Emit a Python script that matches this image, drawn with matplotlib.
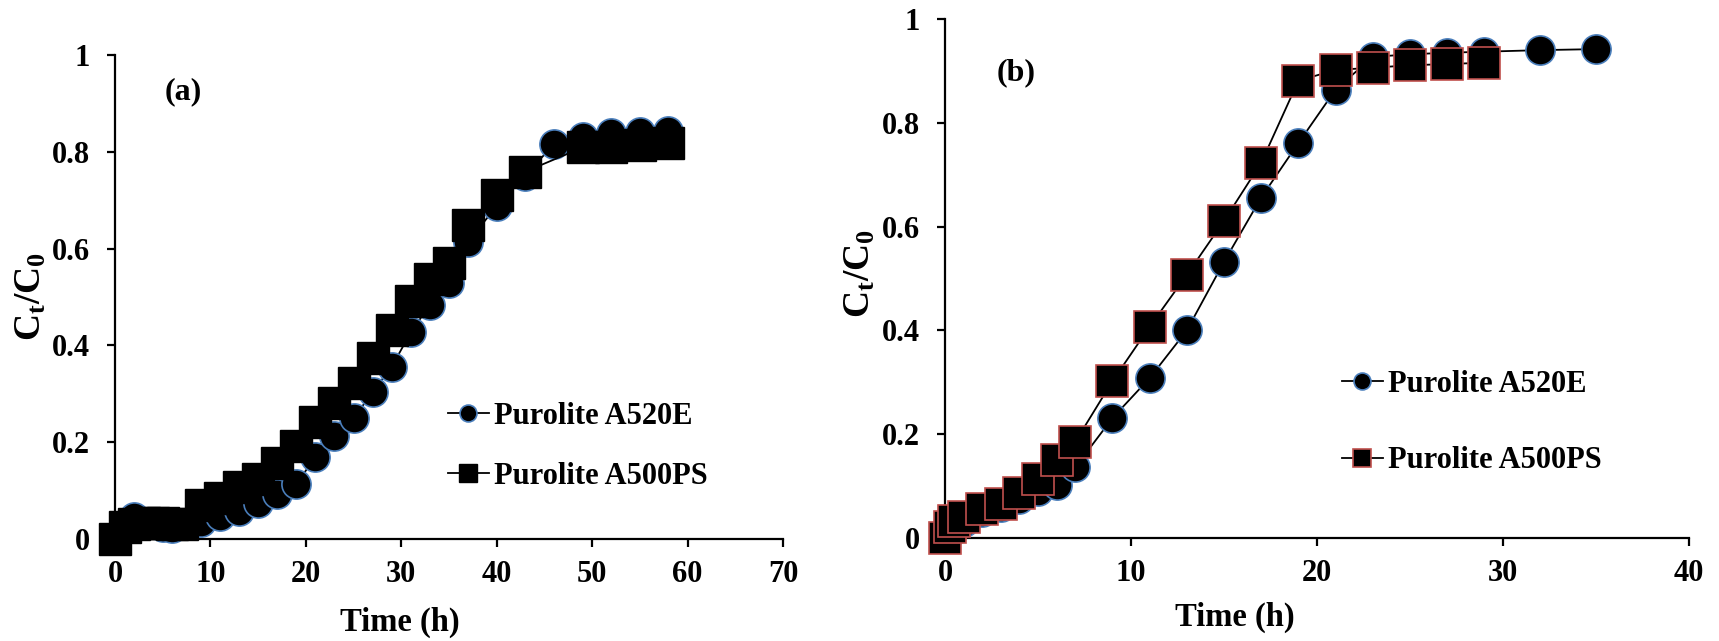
import matplotlib
matplotlib.use("Agg")
import matplotlib.pyplot as plt

plt.rcParams['font.family'] = ['Liberation Serif', 'DejaVu Serif']
plt.rcParams['font.weight'] = 'bold'
plt.rcParams['mathtext.fontset'] = 'custom'
plt.rcParams['mathtext.rm'] = 'Liberation Serif:bold'
plt.rcParams['mathtext.bf'] = 'Liberation Serif:bold'
plt.rcParams['mathtext.it'] = 'Liberation Serif:bold'

# ---------------- data: panel (a) ----------------
a_t_a520e = [0, 1, 2, 3, 4, 5, 6, 7, 9, 11, 13, 15, 17, 19, 21, 23, 25, 27, 29,
             31, 33, 35, 37, 40, 43, 46, 49, 52, 55, 58]
a_c_a520e = [0.0, 0.02, 0.045, 0.035, 0.03, 0.025, 0.022, 0.029, 0.036, 0.048,
             0.058, 0.075, 0.094, 0.113, 0.170, 0.213, 0.249, 0.304, 0.356,
             0.427, 0.484, 0.529, 0.614, 0.688, 0.751, 0.816, 0.831, 0.838,
             0.840, 0.844]
a_t_a500ps = [0, 1, 2, 3, 4, 5, 6, 7, 9, 11, 13, 15, 17, 19, 21, 23, 25, 27, 29,
              31, 33, 35, 37, 40, 43, 49, 52, 55, 58]
a_c_a500ps = [0.0, 0.025, 0.03, 0.034, 0.034, 0.033, 0.03, 0.032, 0.071, 0.084,
              0.108, 0.124, 0.157, 0.192, 0.241, 0.281, 0.323, 0.374, 0.431,
              0.491, 0.537, 0.571, 0.649, 0.710, 0.759, 0.809, 0.810, 0.815,
              0.819]

# ---------------- data: panel (b) ----------------
b_t_a520e = [0, 0.25, 0.5, 1, 2, 3, 4, 5, 6, 7, 9, 11, 13, 15, 17, 19, 21, 23,
             25, 27, 29, 32, 35]
b_c_a520e = [0.0, 0.01, 0.02, 0.03, 0.05, 0.06, 0.075, 0.09, 0.102, 0.136,
             0.231, 0.308, 0.400, 0.532, 0.656, 0.761, 0.864, 0.927, 0.932,
             0.935, 0.937, 0.940, 0.942]
b_t_a500ps = [0, 0.25, 0.5, 1, 2, 3, 4, 5, 6, 7, 9, 11, 13, 15, 17, 19, 21, 23,
              25, 27, 29]
b_c_a500ps = [0.0, 0.021, 0.032, 0.040, 0.056, 0.066, 0.087, 0.114, 0.151,
              0.185, 0.302, 0.407, 0.507, 0.611, 0.723, 0.881, 0.902, 0.906,
              0.911, 0.913, 0.916]

labels = ['Purolite A520E', 'Purolite A500PS']
yticks = [0, 0.2, 0.4, 0.6, 0.8, 1]
yticklabels = ['0', '0.2', '0.4', '0.6', '0.8', '1']
xticks_a = [0, 10, 20, 30, 40, 50, 60, 70]
xticks_b = [0, 10, 20, 30, 40]

BLUE = '#4A7EBB'
RED = '#C0504D'
FS = 22

fig = plt.figure(figsize=(17.19, 6.41), dpi=100)
ax1 = fig.add_axes([0.06690, 0.15912, 0.38860, 0.75507])
ax2 = fig.add_axes([0.54974, 0.16069, 0.43281, 0.80967])


def style(ax, xticks, xmax):
    ax.set_xlim(0, xmax)
    ax.set_ylim(0, 1)
    ax.set_xticks(xticks)
    ax.set_xticklabels([str(v) for v in xticks])
    ax.set_yticks(yticks)
    ax.set_yticklabels(yticklabels)
    for s in ['top', 'right']:
        ax.spines[s].set_visible(False)
    for s in ['left', 'bottom']:
        ax.spines[s].set_linewidth(1.6)
    ax.tick_params(axis='both', direction='out', length=6, width=1.6,
                   labelsize=FS)
    ax.tick_params(axis='x', pad=9)
    ax.tick_params(axis='y', pad=12)
    for lab in ax.get_xticklabels() + ax.get_yticklabels():
        lab.set_fontweight('bold')
    ax.set_xlabel('Time (h)', fontsize=23.5, fontweight='bold')
    ax.set_ylabel(r'$\mathbf{C_t/C_0}$', fontsize=27)


# panel (a)
ax1.plot(a_t_a520e, a_c_a520e, '-', color='black', lw=1.3, marker='o',
         ms=21, mfc='black', mec=BLUE, mew=1.2, clip_on=False, zorder=3,
         label=labels[0])
ax1.plot(a_t_a500ps, a_c_a500ps, '-', color='black', lw=1.3, marker='s',
         ms=22.5, mfc='black', mec='black', mew=1.0, clip_on=False, zorder=4,
         label=labels[1])
style(ax1, xticks_a, 70)
ax1.text(0.102, 0.924, '(a)', transform=ax1.transAxes, fontsize=23,
         fontweight='bold', ha='center', va='center')
ax1.xaxis.set_label_coords(0.427, -0.140)
ax1.yaxis.set_label_coords(-0.100, 0.5)
ax1.legend(loc='upper left', bbox_to_anchor=(0.4985, 0.284), frameon=False,
           prop={'weight': 'bold', 'size': FS}, markerscale=0.58,
           handlelength=1.34, handletextpad=0.16, labelspacing=1.03,
           borderpad=0, borderaxespad=0)

# panel (b)
ax2.plot(b_t_a520e, b_c_a520e, '-', color='black', lw=1.3, marker='o',
         ms=21, mfc='black', mec=BLUE, mew=1.2, clip_on=False, zorder=3,
         label=labels[0])
ax2.plot(b_t_a500ps, b_c_a500ps, '-', color='black', lw=1.3, marker='s',
         ms=22.5, mfc='black', mec=RED, mew=1.2, clip_on=False, zorder=4,
         label=labels[1])
style(ax2, xticks_b, 40)
ax2.text(0.095, 0.896, '(b)', transform=ax2.transAxes, fontsize=23,
         fontweight='bold', ha='center', va='center')
ax2.xaxis.set_label_coords(0.39, -0.122)
ax2.yaxis.set_label_coords(-0.090, 0.51)
ax2.legend(loc='upper left', bbox_to_anchor=(0.5336, 0.3245), frameon=False,
           prop={'weight': 'bold', 'size': FS}, markerscale=0.58,
           handlelength=1.34, handletextpad=0.16, labelspacing=1.56,
           borderpad=0, borderaxespad=0)

fig.savefig('out.png', dpi=100)
